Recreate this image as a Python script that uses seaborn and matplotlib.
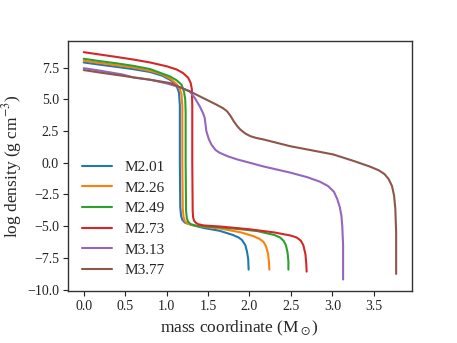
import numpy as np
import pandas as pd
import matplotlib
matplotlib.use("Agg")
import matplotlib.pyplot as plt
import seaborn as sns

labels = ["M2.01", "M2.26", "M2.49", "M2.73", "M3.13", "M3.77"]

m201 = [0, 0.2, 0.4, 0.6, 0.8, 0.95, 1.05, 1.10, 1.13, 1.15, 1.16, 1.16, 1.165, 1.175, 1.19, 1.22, 1.30, 1.45, 1.64, 1.80, 1.87, 1.91, 1.95, 1.97, 1.985, 1.99]
d201 = [7.90, 7.72, 7.55, 7.37, 7.15, 6.85, 6.5, 6.2, 5.9, 5.5, 4.5, 0.0, -3.5, -4.2, -4.5, -4.72, -4.9, -5.15, -5.37, -5.7, -5.9, -6.1, -6.5, -7.0, -7.6, -8.43]

m226 = [0, 0.2, 0.4, 0.6, 0.8, 0.95, 1.05, 1.12, 1.16, 1.18, 1.19, 1.19, 1.195, 1.205, 1.22, 1.25, 1.33, 1.50, 1.64, 1.90, 2.05, 2.12, 2.17, 2.20, 2.225, 2.235, 2.24]
d226 = [8.03, 7.85, 7.68, 7.5, 7.24, 6.95, 6.6, 6.2, 5.8, 5.4, 4.5, 0.0, -3.6, -4.3, -4.6, -4.8, -4.95, -5.1, -5.18, -5.5, -5.8, -6.0, -6.25, -6.6, -7.2, -7.8, -8.43]

m249 = [0, 0.2, 0.4, 0.6, 0.8, 1.04, 1.12, 1.18, 1.21, 1.225, 1.23, 1.23, 1.235, 1.245, 1.26, 1.29, 1.37, 1.50, 1.64, 1.90, 2.10, 2.30, 2.37, 2.41, 2.44, 2.46, 2.47, 2.47]
d249 = [8.19, 8.0, 7.83, 7.63, 7.38, 6.8, 6.5, 6.15, 5.6, 5.0, 4.0, 0.0, -3.8, -4.4, -4.65, -4.85, -5.0, -5.05, -5.1, -5.25, -5.4, -5.7, -5.9, -6.15, -6.5, -7.1, -7.8, -8.43]

m273 = [0, 0.2, 0.4, 0.6, 0.8, 1.0, 1.12, 1.20, 1.26, 1.29, 1.305, 1.31, 1.31, 1.315, 1.32, 1.33, 1.35, 1.38, 1.45, 1.64, 2.0, 2.3, 2.5, 2.57, 2.62, 2.65, 2.675, 2.685, 2.69]
d273 = [8.71, 8.52, 8.33, 8.13, 7.9, 7.6, 7.35, 7.06, 6.7, 6.3, 5.8, 4.5, 0.0, -3.8, -4.3, -4.55, -4.72, -4.85, -4.95, -5.03, -5.25, -5.5, -5.75, -5.9, -6.15, -6.5, -7.2, -7.9, -8.59]

m313 = [0, 0.2, 0.47, 0.6, 0.8, 1.0, 1.16, 1.28, 1.34, 1.40, 1.44, 1.46, 1.48, 1.51, 1.54, 1.59, 1.64, 1.74, 1.85, 2.0, 2.17, 2.49, 2.7, 2.85, 2.95, 3.02, 3.06, 3.09, 3.11, 3.12, 3.13, 3.13]
d313 = [7.45, 7.25, 6.95, 6.72, 6.54, 6.25, 5.95, 5.62, 5.1, 4.44, 3.9, 3.53, 2.48, 1.85, 1.44, 1.0, 0.78, 0.5, 0.26, 0.0, -0.3, -0.78, -1.15, -1.5, -1.85, -2.3, -2.88, -3.5, -4.19, -5.0, -6.5, -9.21]

m377 = [0, 0.2, 0.47, 0.6, 0.8, 1.04, 1.16, 1.28, 1.44, 1.60, 1.68, 1.73, 1.77, 1.81, 1.85, 1.89, 1.95, 2.01, 2.08, 2.17, 2.49, 2.65, 3.01, 3.26, 3.45, 3.56, 3.63, 3.68, 3.72, 3.745, 3.76, 3.77, 3.77]
d377 = [7.3, 7.1, 6.85, 6.72, 6.54, 6.28, 5.95, 5.62, 5.1, 4.58, 4.3, 4.05, 3.7, 3.27, 2.9, 2.61, 2.3, 2.09, 1.95, 1.83, 1.3, 1.1, 0.65, 0.13, -0.3, -0.6, -0.9, -1.3, -1.84, -2.6, -3.6, -5.5, -8.77]

masses = [m201, m226, m249, m273, m313, m377]
dens = [d201, d226, d249, d273, d313, d377]

frames = []
for lab, mm, dd in zip(labels, masses, dens):
    frames.append(pd.DataFrame({"mass": mm, "logrho": dd, "model": lab}))
df = pd.concat(frames, ignore_index=True)

sns.set_style("ticks")
plt.rcParams["font.family"] = ["Liberation Serif", "DejaVu Serif"]
plt.rcParams["mathtext.fontset"] = "stix"

fig = plt.figure(figsize=(4.57, 3.43), dpi=100)
ax = fig.add_axes([0.149, 0.152, 0.752, 0.729])

palette = sns.color_palette("tab10")
for i, lab in enumerate(labels):
    sub = df[df["model"] == lab]
    sns.lineplot(x=sub["mass"].values, y=sub["logrho"].values, sort=False,
                 estimator=None, color=palette[i],
                 linewidth=1.5, label=lab, ax=ax)

for s in ax.spines.values():
    s.set_visible(True)
    s.set_color("#333333")
    s.set_linewidth(1.0)

ax.set_xticks([0.0, 0.5, 1.0, 1.5, 2.0, 2.5, 3.0, 3.5])
ax.set_xticklabels(["0.0", "0.5", "1.0", "1.5", "2.0", "2.5", "3.0", "3.5"])
ax.set_yticks([-10.0, -7.5, -5.0, -2.5, 0.0, 2.5, 5.0, 7.5])
ax.set_yticklabels(["\u221210.0", "\u22127.5", "\u22125.0", "\u22122.5", "0.0", "2.5", "5.0", "7.5"])
ax.tick_params(labelsize=10, length=3.5, width=0.8, colors="#222222", pad=3)

ax.set_xlabel(r"mass coordinate (M$_\odot$)", fontsize=12.5)
ax.set_ylabel(r"log density (g cm$^{-3}$)", fontsize=12.5, labelpad=2)

ax.legend(loc="lower left", frameon=False, fontsize=11, handlelength=2.0,
          labelspacing=0.45)

fig.savefig("out.png", dpi=100)
